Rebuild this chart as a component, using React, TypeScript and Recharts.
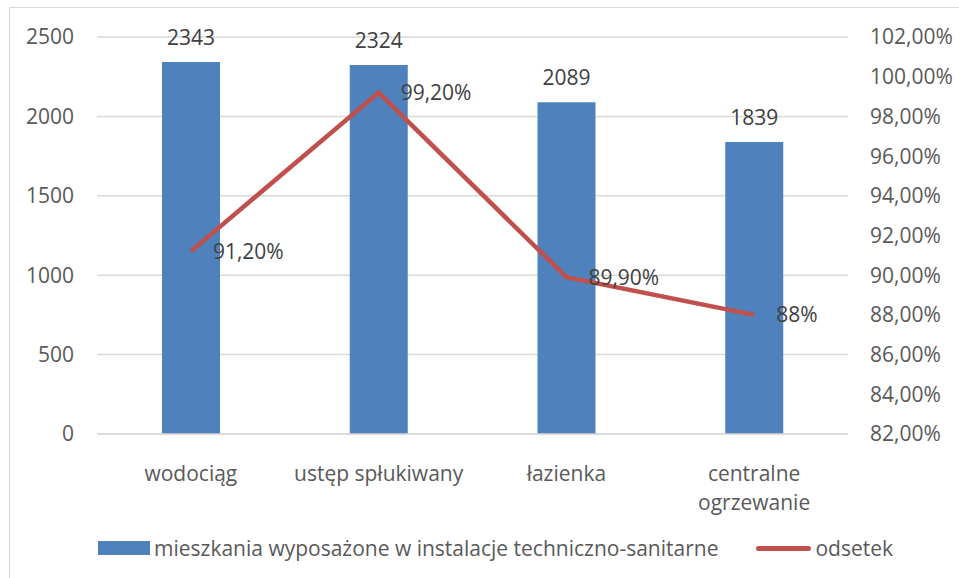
import React from 'react';
import {
	ComposedChart,
	Bar,
	Line,
	XAxis,
	YAxis,
	CartesianGrid,
	Legend,
	LabelList,
} from 'recharts';

const categories = ['wodociąg', 'ustęp spłukiwany', 'łazienka', 'centralne ogrzewanie'];
const mieszkania = [2343, 2324, 2089, 1839];
const odsetek = [91.2, 99.2, 89.9, 88];
const odsetekLabels = ['91,20%', '99,20%', '89,90%', '88%'];
const leftTicks = [0, 500, 1000, 1500, 2000, 2500];
const rightTicks = [82, 84, 86, 88, 90, 92, 94, 96, 98, 100, 102];

const barName = 'mieszkania wyposażone w instalacje techniczno-sanitarne';
const lineName = 'odsetek';

const FONT = '"Open Sans", sans-serif';
const FS = 21;
const AXIS_TEXT = '#595959';
const LABEL_TEXT = '#404040';
const BLUE = '#4F81BD';
const RED = '#C0504D';

const data = categories.map((name, i) => ({
	name,
	mieszkania: mieszkania[i],
	odsetek: odsetek[i],
	odsetekLabel: odsetekLabels[i],
}));

// category labels wrap onto a second line when they are too wide
function CategoryTick(props: any) {
	const { x, y, payload } = props;
	const words = String(payload.value).split(' ');
	const lines = words.length > 1 && String(payload.value).length > 18 ? words : [payload.value];
	return (
		<text x={x} y={y} textAnchor="middle" fill={AXIS_TEXT} fontSize={FS} fontFamily={FONT}>
			{lines.map((line: string, i: number) => (
				<tspan key={i} x={x} dy={i === 0 ? 39 : 29}>
					{line}
				</tspan>
			))}
		</text>
	);
}

function ChartLegend() {
	return (
		<div
			style={{
				display: 'flex',
				alignItems: 'center',
				height: 40,
				paddingLeft: 98,
				fontFamily: FONT,
				fontSize: FS,
				color: AXIS_TEXT,
			}}
		>
			<span style={{ display: 'inline-block', width: 52, height: 14, background: BLUE, marginRight: 4 }} />
			<span>{barName}</span>
			<span
				style={{
					display: 'inline-block',
					width: 55,
					height: 5,
					borderRadius: 3,
					background: RED,
					marginLeft: 38,
					marginRight: 4,
				}}
			/>
			<span>{lineName}</span>
		</div>
	);
}

export default function App() {
	return (
		<div style={{ position: 'absolute', left: 0, top: 0, width: 959, height: 578, background: '#fff', overflow: 'hidden' }}>
			<div
				style={{
					position: 'absolute',
					left: 9,
					top: 7,
					width: 970,
					height: 590,
					border: '1px solid #d9d9d9',
				}}
			/>
			<ComposedChart
				width={959}
				height={578}
				data={data}
				margin={{ top: 37, right: 0, bottom: 10, left: 0 }}
				style={{ fontFamily: FONT }}
			>
				<CartesianGrid yAxisId="left" vertical={false} stroke="#d9d9d9" strokeWidth={1.5} />
				<XAxis
					dataKey="name"
					height={94}
					tick={<CategoryTick />}
					tickLine={false}
					axisLine={{ stroke: '#d9d9d9', strokeWidth: 1.5 }}
					interval={0}
				/>
				<YAxis
					yAxisId="left"
					width={97}
					domain={[0, 2500]}
					ticks={leftTicks}
					tickLine={false}
					axisLine={false}
					tickSize={0}
					tickMargin={23}
					tick={{ fill: AXIS_TEXT, fontSize: FS, fontFamily: FONT }}
				/>
				<YAxis
					yAxisId="right"
					orientation="right"
					width={111}
					domain={[82, 102]}
					ticks={rightTicks}
					tickLine={false}
					axisLine={false}
					tickSize={0}
					tickMargin={22}
					tick={{ fill: AXIS_TEXT, fontSize: FS, fontFamily: FONT, textAnchor: 'start' }}
					tickFormatter={(v: number) => `${v.toFixed(2).replace('.', ',')}%`}
				/>
				<Legend verticalAlign="bottom" content={<ChartLegend />} />
				<Bar yAxisId="left" dataKey="mieszkania" name={barName} fill={BLUE} barSize={58} isAnimationActive={false}>
					<LabelList
						dataKey="mieszkania"
						position="top"
						offset={17}
						fill={LABEL_TEXT}
						fontSize={FS}
						fontFamily={FONT}
					/>
				</Bar>
				<Line
					yAxisId="right"
					type="linear"
					dataKey="odsetek"
					name={lineName}
					stroke={RED}
					strokeWidth={4.5}
					dot={false}
					isAnimationActive={false}
				>
					<LabelList
						dataKey="odsetekLabel"
						position="right"
						offset={22}
						fill={LABEL_TEXT}
						fontSize={FS}
						fontFamily={FONT}
					/>
				</Line>
			</ComposedChart>
		</div>
	);
}
